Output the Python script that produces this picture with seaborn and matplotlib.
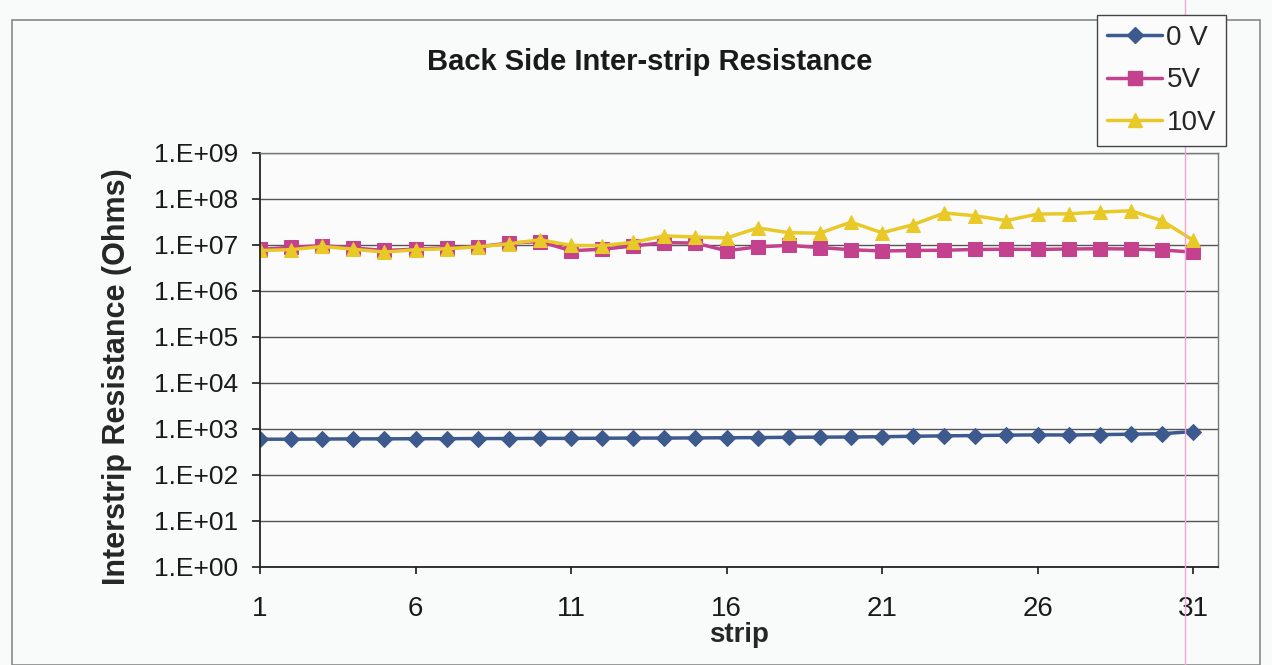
#Back side inter-strip resistance - recriacao do grafico
import math
import pandas as pd
import matplotlib
matplotlib.use("Agg")
import matplotlib.pyplot as plt
import matplotlib.ticker as mticker
from matplotlib.patches import Rectangle
from matplotlib.lines import Line2D
import seaborn as sns

#Dados
strips = list(range(1, 32))
r_0v = [600, 600, 605, 610, 610, 615, 615, 620, 620, 625, 625, 630, 635, 635, 640,
        645, 650, 660, 665, 670, 680, 695, 710, 720, 735, 745, 740, 755, 770, 790, 880]
r_5v = [8.0e6, 8.9e6, 9.7e6, 8.6e6, 7.6e6, 8.1e6, 8.7e6, 9.1e6, 1.1e7, 1.19e7,
        7.5e6, 8.1e6, 9.5e6, 1.13e7, 1.1e7, 7.5e6, 9.1e6, 9.8e6, 8.8e6, 7.9e6,
        7.4e6, 7.6e6, 7.7e6, 8.0e6, 8.1e6, 8.0e6, 8.2e6, 8.3e6, 8.2e6, 7.8e6, 7.0e6]
r_10v = [7.6e6, 7.9e6, 9.3e6, 8.1e6, 7.0e6, 7.9e6, 8.3e6, 9.1e6, 1.06e7, 1.30e7,
         9.8e6, 9.7e6, 1.14e7, 1.58e7, 1.49e7, 1.42e7, 2.35e7, 1.85e7, 1.81e7, 3.14e7,
         1.84e7, 2.77e7, 4.97e7, 4.3e7, 3.4e7, 4.7e7, 4.77e7, 5.2e7, 5.55e7, 3.36e7, 1.27e7]
series_labels = ["0 V", "5V", "10V"]

df = pd.DataFrame({"strip": strips, "0 V": r_0v, "5V": r_5v, "10V": r_10v})

# Estilo das series (cores do Excel escaneado)
cores = {"0 V": "#3d5a8e", "5V": "#c4418e", "10V": "#e8c928"}
marcadores = {"0 V": "D", "5V": "s", "10V": "^"}
tamanhos = {"0 V": 8, "5V": 10, "10V": 10}

sns.set_theme(style="white")
plt.rcParams["font.family"] = ["Liberation Sans", "DejaVu Sans"]

fig = plt.figure(figsize=(12.72, 6.65), dpi=100, facecolor="#f9fafa")
ax = fig.add_axes([260 / 1272, 1 - 567 / 665, 958 / 1272, 414 / 665])
ax.set_facecolor("#fbfbfb")

for nome in series_labels:
    sns.lineplot(data=df, x="strip", y=nome, ax=ax, color=cores[nome],
                 marker=marcadores[nome], markersize=tamanhos[nome],
                 markeredgecolor=cores[nome], linewidth=2.5, label=nome,
                 legend=False)

# Eixos
ax.set_yscale("log")
ax.set_ylim(1, 1e9)
ax.set_xlim(1, 31.8)
ax.set_xticks(range(1, 32, 5))
ax.yaxis.set_major_locator(mticker.LogLocator(base=10, numticks=12))
ax.yaxis.set_minor_locator(mticker.NullLocator())
ax.yaxis.set_major_formatter(
    mticker.FuncFormatter(lambda v, p: f"1.E+{int(round(math.log10(v))):02d}"))
ax.grid(axis="y", color="#555555", linewidth=1.0)
ax.grid(axis="x", visible=False)

for lado in ["top", "right"]:
    ax.spines[lado].set_color("#777777")
    ax.spines[lado].set_linewidth(1.0)
for lado in ["left", "bottom"]:
    ax.spines[lado].set_color("#222222")
    ax.spines[lado].set_linewidth(1.3)

ax.tick_params(axis="y", labelsize=19, colors="#1a1a1a", direction="out",
               length=6, width=1.2, left=True, pad=10)
ax.tick_params(axis="x", labelsize=20, colors="#1a1a1a", direction="out",
               length=5, width=1.2, bottom=True, pad=16)
ax.set_xlabel("strip", fontsize=20, fontweight="bold", labelpad=0)
ax.set_ylabel("Interstrip Resistance (Ohms)", fontsize=22, fontweight="bold")
ax.yaxis.set_label_coords(-(260 - 132) / 958, (567 - 377) / 414)
fig.text(650 / 1272, 1 - 62 / 665, "Back Side Inter-strip Resistance",
         ha="center", va="center", fontsize=21, fontweight="bold", color="#1a1a1a")

# Legenda fora do grafico, canto superior direito
handles = [Line2D([0], [0], color=cores[n], marker=marcadores[n], markersize=tamanhos[n],
                  linewidth=2.5) for n in series_labels]
fig.legend(handles, series_labels, loc="upper left",
           bbox_to_anchor=(1097 / 1272, 1 - 15 / 665), fontsize=20,
           frameon=True, fancybox=False, edgecolor="#444444", framealpha=1,
           facecolor="#fbfbfb", handlelength=2.0, handletextpad=0.15,
           labelspacing=0.6, borderpad=0.35, borderaxespad=0)

# Moldura da area do grafico e linha de quebra de pagina do scan
fig.patches.append(Rectangle((12 / 1272, 0.0), 1248 / 1272, 1 - 20 / 665,
                             transform=fig.transFigure, fill=False,
                             edgecolor="#888888", linewidth=1.2))
fig.lines.append(Line2D([1185 / 1272, 1185 / 1272], [0, 1], transform=fig.transFigure,
                        color="#f2a6cf", linewidth=1.0))

fig.savefig("out.png", dpi=100, facecolor=fig.get_facecolor())
